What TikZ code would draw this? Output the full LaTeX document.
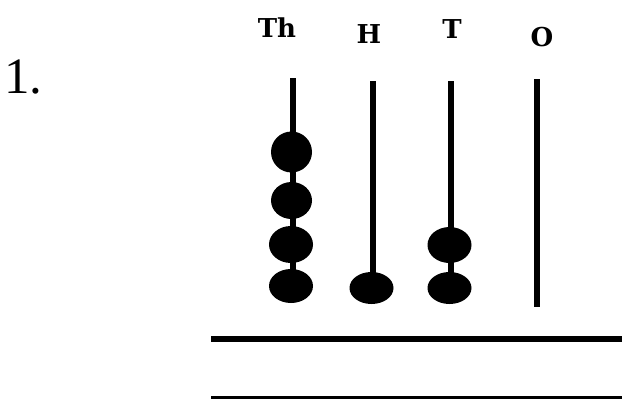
\documentclass[tikz,border=0pt]{standalone}
\usepackage{fontspec}
\setmainfont{Liberation Serif}
\newfontfamily\labfont{DejaVu Serif}
\begin{document}
\begin{tikzpicture}[x=1pt,y=-1pt,
  rod/.style={line width=6pt},
  bead/.style={fill=black},
  baseline rule/.style={line width=5.5pt},
  lab/.style={anchor=base,inner sep=0pt,font=\labfont\bfseries\fontsize{26}{26}\selectfont}]
\useasboundingbox (0,0) rectangle (622,399);
\begin{scope}
\clip (0,0) rectangle (622,399);
% number
\node[anchor=base west,inner sep=0pt,font=\fontsize{51}{51}\selectfont] (num) at (4,93) {1.};
% labels
\node[lab] (lTh) at (277,37) {Th};
\node[lab] (lH) at (369,43) {H};
\node[lab] (lT) at (452,38) {T};
\node[lab] (lO) at (542,46) {O};
% rods
\draw[rod] (292.5,78) -- (292.5,286);
\draw[rod] (372.5,81) -- (372.5,288);
\draw[rod] (450.5,81) -- (450.5,288);
\draw[rod] (536.5,79) -- (536.5,307);
% beads: thousands
\fill[bead] (291.5,152) ellipse [x radius=20.5, y radius=20.5];
\fill[bead] (291.5,200.5) ellipse [x radius=20.5, y radius=18.5];
\fill[bead] (291,244.5) ellipse [x radius=22, y radius=18.5];
\fill[bead] (291,286) ellipse [x radius=22, y radius=17];
% hundreds
\fill[bead] (371.5,288) ellipse [x radius=22, y radius=16];
% tens
\fill[bead] (449.5,245) ellipse [x radius=22, y radius=18];
\fill[bead] (449.5,288) ellipse [x radius=22, y radius=16];
% answer lines
\draw[baseline rule] (211,339) -- (622,339);
\draw[baseline rule] (211,398.5) -- (622,398.5);
\end{scope}
\end{tikzpicture}
\end{document}
